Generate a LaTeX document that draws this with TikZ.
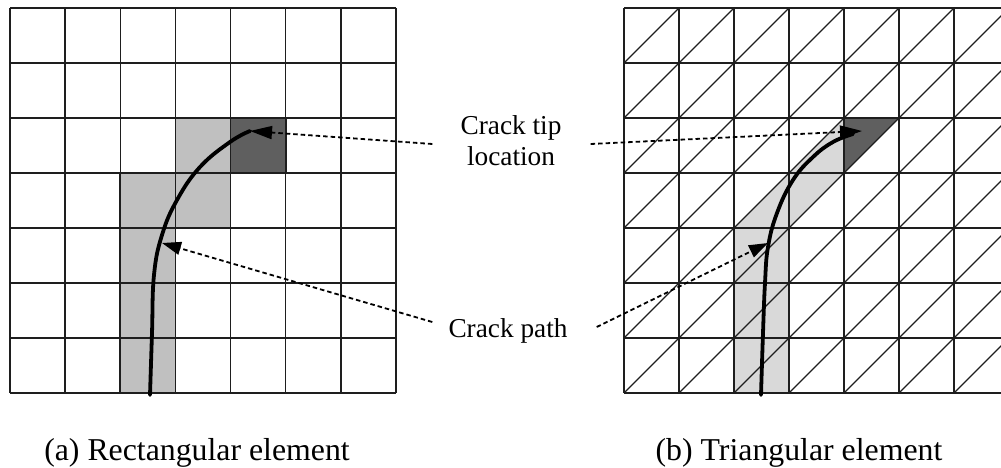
\documentclass[tikz,border=0pt]{standalone}
\usepackage{fontspec}
\setmainfont{Liberation Serif}
\usetikzlibrary{arrows.meta,calc}
\definecolor{lgA}{HTML}{C0C0C0}
\definecolor{lgB}{HTML}{D9D9D9}
\definecolor{dg}{HTML}{5F5F5F}
\definecolor{gl}{HTML}{1E1E1E}
\begin{document}
\begin{tikzpicture}[x=1pt,y=-1pt,
  gridline/.style={draw=gl,line width=1.3pt},
  cellline/.style={draw=gl,line width=1.8pt},
  crack/.style={line width=3.8pt,line cap=round},
  ptrbase/.style={line width=1.8pt,dash pattern=on 4.5pt off 3pt},
  tipptr/.style={ptrbase,-{Triangle[length=22pt,width=13pt]}},
  pathptr/.style={ptrbase,-{Triangle[length=19pt,width=13pt]}},
  lbl/.style={font=\fontsize{27.3}{31}\selectfont,align=center},
  capt/.style={font=\fontsize{31.8}{36}\selectfont,anchor=base}]
\useasboundingbox (0,0) rectangle (1001,468);

% ---- left: rectangular mesh ----
\fill[lgA] (120.29,173) rectangle (175.43,393);
\fill[lgA] (175.43,118) rectangle (230.57,228);
\fill[dg] (230.57,118) rectangle (285.71,173);
\foreach \i in {0,...,7}
  \draw[gridline] ({10+55.143*\i},8) -- ({10+55.143*\i},393);
\foreach \j in {0,...,7}
  \draw[gridline] (10,{8+55*\j}) -- (396,{8+55*\j});
\draw[cellline] (120.29,393) -- (120.29,173) -- (175.43,173) -- (175.43,118) -- (285.71,118) -- (285.71,173) -- (230.57,173) -- (230.57,228) -- (175.43,228) -- (175.43,393);
\draw[crack] plot[smooth,tension=0.7] coordinates
  {(150,395) (152,333) (154,275) (162,235) (177,200) (200,167) (230,142) (250,131)};

% ---- right: triangular mesh ----
\fill[lgB] (734,393) -- (734,228) -- (844,118) -- (844,173) -- (789,228) -- (789,393) -- cycle;
\fill[dg] (844,118) -- (899,118) -- (844,173) -- cycle;
\begin{scope}
  \clip (618,0) rectangle (1001,400);
  \foreach \i in {0,...,7}
    \draw[gridline] ({624+55*\i},8) -- ({624+55*\i},393);
  \foreach \j in {0,...,7}
    \draw[gridline] (624,{8+55*\j}) -- (1010,{8+55*\j});
  \foreach \i in {0,...,7}
    \foreach \j in {0,...,6}
      \draw[gridline,line width=1.1pt] ({624+55*\i},{8+55*(\j+1)}) -- ({624+55*(\i+1)},{8+55*\j});
\end{scope}
\draw[crack] plot[smooth,tension=0.7] coordinates
  {(761,395) (763,333) (765,283) (768,247) (777,213) (793,180) (813,157) (833,142) (853,134)};

% ---- labels and pointers ----
\node[lbl,inner xsep=28pt] (tip) at (511,141) {Crack tip\\location};
\node[lbl,inner xsep=16pt] (path) at (508,331) {Crack path};
\coordinate (tipL) at (250,131);
\coordinate (tipR) at (862,131);
\coordinate (pathL) at (162,243);
\coordinate (pathR) at (768,243);
\draw[tipptr] ($(tip.west)+(0,3)$) -- (tipL);
\draw[tipptr] ($(tip.east)+(1,3)$) -- (tipR);
\draw[pathptr] ($(path.west)+(0,-9)$) -- (pathL);
\draw[pathptr] ($(path.east)+(13,-4)$) -- (pathR);

\node[capt] (capa) at (197,460) {(a) Rectangular element};
\node[capt] (capb) at (799,460) {(b) Triangular element};
\end{tikzpicture}
\end{document}
